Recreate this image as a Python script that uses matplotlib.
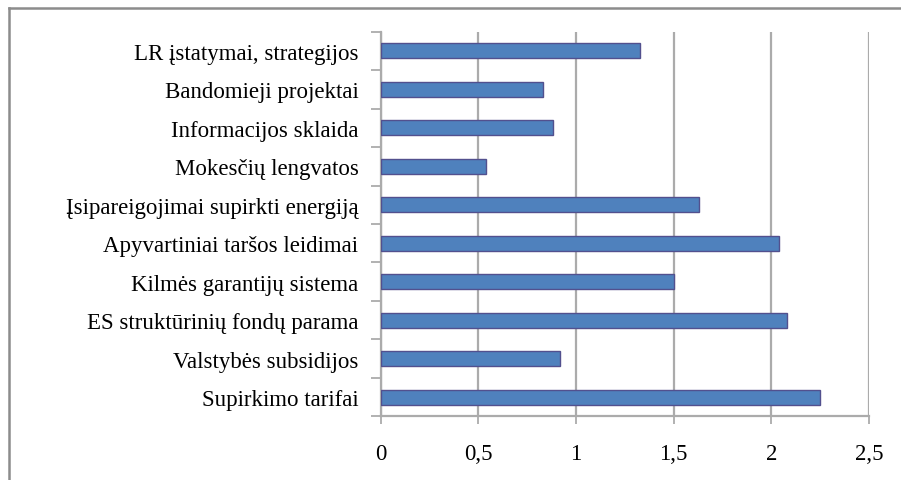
import matplotlib
matplotlib.use("Agg")
import matplotlib.pyplot as plt
from matplotlib.lines import Line2D
import numpy as np

# ---- data (bottom to top) ----
categories = [
    "Supirkimo tarifai",
    "Valstybės subsidijos",
    "ES struktūrinių fondų parama",
    "Kilmės garantijų sistema",
    "Apyvartiniai taršos leidimai",
    "Įsipareigojimai supirkti energiją",
    "Mokesčių lengvatos",
    "Informacijos sklaida",
    "Bandomieji projektai",
    "LR įstatymai, strategijos",
]
values = [2.25, 0.92, 2.08, 1.5, 2.04, 1.63, 0.54, 0.88, 0.83, 1.33]
x_ticks = [0, 0.5, 1, 1.5, 2, 2.5]
x_labels = ["0", "0,5", "1", "1,5", "2", "2,5"]

BAR = "#4F81BD"
BAR_EDGE = "#52508E"
GRID = "#ABABAB"
FONT = "Liberation Serif"

fig = plt.figure(figsize=(9.01, 4.81), dpi=100)
ax = fig.add_axes([0.4225, 0.1324, 0.9645 - 0.4225, 0.932 - 0.1324])

y = np.arange(len(categories))
ax.barh(y, values, height=0.39, color=BAR, edgecolor=BAR_EDGE,
        linewidth=1.0, zorder=3)

ax.set_xlim(0, 2.5)
ax.set_ylim(-0.5, len(categories) - 0.5)

# vertical gridlines, the one at 2.5 closes the plot on the right
ax.set_xticks(x_ticks)
ax.set_xticklabels(x_labels, fontfamily=FONT, fontsize=16.5)
ax.xaxis.grid(True, color=GRID, linewidth=1.6, zorder=1)

# category labels centred on bars, ticks on the category boundaries
ax.set_yticks(y)
ax.set_yticklabels(categories, fontfamily=FONT, fontsize=16.5)
ax.set_yticks(np.arange(-0.5, len(categories)), minor=True)
ax.tick_params(axis="y", which="major", length=0, pad=16)
ax.tick_params(axis="y", which="minor", length=7, width=1.3, color=GRID)
ax.tick_params(axis="x", length=6, width=1.3, color=GRID, pad=13)

for s in ("top", "right"):
    ax.spines[s].set_visible(False)
for s in ("left", "bottom"):
    ax.spines[s].set_color(GRID)
    ax.spines[s].set_linewidth(1.6)

# outer frame (top and left edges only)
fig.add_artist(Line2D([9 / 901, 1], [1 - 9 / 481] * 2, color="#8C8C8C",
                      linewidth=1.8, transform=fig.transFigure))
fig.add_artist(Line2D([9 / 901] * 2, [0, 1 - 9 / 481], color="#8C8C8C",
                      linewidth=1.8, transform=fig.transFigure))

fig.savefig("out.png", dpi=100, facecolor="white")
